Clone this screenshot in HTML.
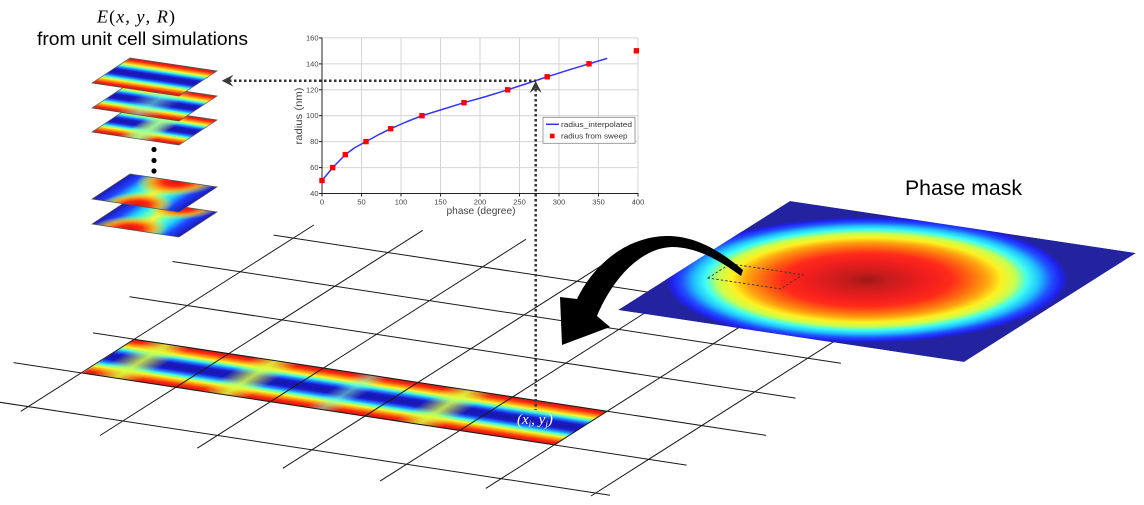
<!DOCTYPE html>
<html><head><meta charset="utf-8"><style>
html,body{margin:0;padding:0;background:#fff;}
svg{display:block;}
</style></head><body>
<svg width="1144" height="505" viewBox="0 0 1144 505" xmlns="http://www.w3.org/2000/svg">
<defs>
  <linearGradient id="sv" x1="0" y1="0" x2="0" y2="1">
    <stop offset="0" stop-color="#c81414"/>
    <stop offset="0.08" stop-color="#ff2a10"/>
    <stop offset="0.16" stop-color="#ffa010"/>
    <stop offset="0.22" stop-color="#f8f830"/>
    <stop offset="0.29" stop-color="#40ffe0"/>
    <stop offset="0.35" stop-color="#2080ff"/>
    <stop offset="0.42" stop-color="#1a1ad0"/>
    <stop offset="0.5" stop-color="#1818a8"/>
    <stop offset="0.58" stop-color="#1a1ad0"/>
    <stop offset="0.65" stop-color="#2080ff"/>
    <stop offset="0.71" stop-color="#40ffe0"/>
    <stop offset="0.78" stop-color="#f8f830"/>
    <stop offset="0.84" stop-color="#ffa010"/>
    <stop offset="0.92" stop-color="#ff2a10"/>
    <stop offset="1" stop-color="#c81414"/>
  </linearGradient>
  <linearGradient id="xu" x1="0" y1="0" x2="1" y2="0">
    <stop offset="0" stop-color="#1a1ab8"/>
    <stop offset="0.14" stop-color="#2040ff"/>
    <stop offset="0.27" stop-color="#20d0ff"/>
    <stop offset="0.38" stop-color="#60ffc0"/>
    <stop offset="0.5" stop-color="#f0f840"/>
    <stop offset="0.62" stop-color="#60ffc0"/>
    <stop offset="0.73" stop-color="#20d0ff"/>
    <stop offset="0.86" stop-color="#2040ff"/>
    <stop offset="1" stop-color="#1a1ab8"/>
  </linearGradient>
  <radialGradient id="rb">
    <stop offset="0" stop-color="#d01010"/>
    <stop offset="0.35" stop-color="#ff2a10"/>
    <stop offset="0.62" stop-color="#ffa010" stop-opacity="0.9"/>
    <stop offset="1" stop-color="#f8f830" stop-opacity="0"/>
  </radialGradient>
  <linearGradient id="pinch" x1="0" y1="0" x2="1" y2="0">
    <stop offset="0" stop-color="#d8ff40" stop-opacity="0"/>
    <stop offset="0.5" stop-color="#d8ff40" stop-opacity="0.85"/>
    <stop offset="1" stop-color="#d8ff40" stop-opacity="0"/>
  </linearGradient>
  <linearGradient id="pinch2" x1="0" y1="0" x2="1" y2="0">
    <stop offset="0" stop-color="#80ffd0" stop-opacity="0"/>
    <stop offset="0.5" stop-color="#80ffd0" stop-opacity="0.55"/>
    <stop offset="1" stop-color="#80ffd0" stop-opacity="0"/>
  </linearGradient>
  <radialGradient id="mg" gradientUnits="userSpaceOnUse" cx="0.47" cy="0.5" r="0.52">
    <stop offset="0" stop-color="#a01818"/>
    <stop offset="0.12" stop-color="#c81c1c"/>
    <stop offset="0.3" stop-color="#f01e1e"/>
    <stop offset="0.42" stop-color="#ff2a1a"/>
    <stop offset="0.52" stop-color="#ff6a10"/>
    <stop offset="0.6" stop-color="#ffa510"/>
    <stop offset="0.67" stop-color="#fff020"/>
    <stop offset="0.74" stop-color="#c8ff50"/>
    <stop offset="0.8" stop-color="#40fff0"/>
    <stop offset="0.86" stop-color="#20c0ff"/>
    <stop offset="0.92" stop-color="#2050ff"/>
    <stop offset="0.97" stop-color="#2020f0"/>
    <stop offset="1" stop-color="#2323a0"/>
  </radialGradient>
  <clipPath id="u"><rect x="0" y="0" width="1" height="1"/></clipPath>
</defs>

<rect width="1144" height="505" fill="#fff"/>

<!-- Top-left title -->
<text x="97" y="22.5" font-family="Liberation Serif, serif" font-size="18" fill="#000" textLength="78" lengthAdjust="spacing"><tspan font-style="italic">E</tspan>(<tspan font-style="italic">x</tspan>, <tspan font-style="italic">y</tspan>, <tspan font-style="italic">R</tspan>)</text>
<text x="37" y="45" font-family="Liberation Sans, sans-serif" font-size="18" fill="#000" textLength="211" lengthAdjust="spacingAndGlyphs">from unit cell simulations</text>

<!-- Unit cell plates (bottom first) -->
<g transform="matrix(87,13,-38,25,130,199)">
  <g clip-path="url(#u)">
    <rect width="1" height="1" fill="url(#xu)"/>
    <ellipse cx="0.42" cy="1" rx="0.4" ry="0.5" fill="url(#rb)"/>
    <ellipse cx="0.62" cy="0" rx="0.36" ry="0.45" fill="url(#rb)"/>
  </g>
  <polygon points="0,0 1,0 1,1 0,1" fill="none" stroke="#555" stroke-width="0.7" vector-effect="non-scaling-stroke"/>
</g>
<g transform="matrix(87,13,-38,25,130,174)">
  <g clip-path="url(#u)">
    <rect width="1" height="1" fill="url(#xu)"/>
    <ellipse cx="0.55" cy="0" rx="0.42" ry="0.55" fill="url(#rb)"/>
    <ellipse cx="0.5" cy="1" rx="0.38" ry="0.5" fill="url(#rb)"/>
  </g>
  <polygon points="0,0 1,0 1,1 0,1" fill="none" stroke="#555" stroke-width="0.7" vector-effect="non-scaling-stroke"/>
</g>
<!-- dots -->
<circle cx="154" cy="149.5" r="2.6" fill="#000"/>
<circle cx="154" cy="160.5" r="2.6" fill="#000"/>
<circle cx="154" cy="171" r="2.6" fill="#000"/>
<g transform="matrix(87,13,-38,25,130,107)">
  <g clip-path="url(#u)">
    <rect width="1" height="1" fill="url(#sv)"/>
    <rect x="0.3" y="0" width="0.4" height="1" fill="url(#pinch)"/>
    <rect x="0.3" y="0" width="0.4" height="1" fill="url(#pinch2)"/>
  </g>
  <polygon points="0,0 1,0 1,1 0,1" fill="none" stroke="#555" stroke-width="0.7" vector-effect="non-scaling-stroke"/>
</g>
<g transform="matrix(87,13,-38,25,130,83)">
  <g clip-path="url(#u)">
    <rect width="1" height="1" fill="url(#sv)"/>
    <rect x="0.25" y="0" width="0.5" height="1" fill="url(#pinch2)"/>
  </g>
  <polygon points="0,0 1,0 1,1 0,1" fill="none" stroke="#555" stroke-width="0.7" vector-effect="non-scaling-stroke"/>
</g>
<g transform="matrix(87,13,-38,25,130,58)">
  <g clip-path="url(#u)">
    <rect width="1" height="1" fill="url(#sv)"/>
  </g>
  <polygon points="0,0 1,0 1,1 0,1" fill="none" stroke="#555" stroke-width="0.7" vector-effect="non-scaling-stroke"/>
</g>

<!-- Strip -->
<g transform="matrix(473,72,-52,34,134.2,339.2)">
  <g clip-path="url(#u)">
    <rect width="1" height="1" fill="url(#sv)"/>
    <rect x="0.02" y="0" width="0.1" height="1" fill="url(#pinch)"/>
    <rect x="0.25" y="0" width="0.1" height="1" fill="url(#pinch)"/>
    <rect x="0.47" y="0" width="0.07" height="1" fill="url(#pinch2)"/>
    <rect x="0.66" y="0" width="0.1" height="1" fill="url(#pinch)"/>
  </g>
</g>

<!-- Grid lines -->
<g stroke="#1a1a1a" stroke-width="1" fill="none">
  <line x1="273.6" y1="235.1" x2="860.8" y2="324.5"/>
  <line x1="172.5" y1="261.5" x2="840.9" y2="363.2"/>
  <line x1="129.5" y1="296.7" x2="795.5" y2="398.1"/>
  <line x1="93.05" y1="332.9" x2="766.1" y2="435.4"/>
  <line x1="13.5" y1="362.6" x2="686.6" y2="465.1"/>
  <line x1="-19.1" y1="399.4" x2="610" y2="495.2"/>
  <line x1="313.9" y1="225" x2="20.8" y2="411.3"/>
  <line x1="422.8" y1="230.3" x2="100" y2="435.5"/>
  <line x1="525.9" y1="239.3" x2="197.3" y2="448.2"/>
  <line x1="614.1" y1="257.7" x2="282.8" y2="468.3"/>
  <line x1="714" y1="269" x2="380.1" y2="481.1"/>
  <line x1="803.3" y1="286.5" x2="485.8" y2="488.4"/>
  <line x1="887.3" y1="307.6" x2="591" y2="496"/>
</g>

<!-- (x_i, y_j) label -->
<text x="517" y="424" font-family="Liberation Serif, serif" font-size="15" fill="#fff" font-style="italic">(x<tspan font-size="9" dy="3">i</tspan><tspan dy="-3">, y</tspan><tspan font-size="9" dy="3">j</tspan><tspan dy="-3">)</tspan></text>

<!-- Phase mask -->
<g transform="matrix(346,52,-172,109,790,201)">
  <g clip-path="url(#u)">
    <rect width="1" height="1" fill="#2323a0"/>
    <circle cx="0.47" cy="0.5" r="0.52" fill="url(#mg)"/>
  </g>
</g>
<polygon points="708,278 730.4,263.8 803,274.7 780.6,288.9" fill="none" stroke="#333" stroke-width="0.9" stroke-dasharray="2.5 2"/>
<text x="905" y="195" font-family="Liberation Sans, sans-serif" font-size="21" fill="#000" textLength="117" lengthAdjust="spacingAndGlyphs">Phase mask</text>

<!-- Curved arrow -->
<path d="M560,297 L577,299 C595,262 630,235 670,236 C700,237 725,255 743,270 L741,276 C722,262 698,247 672,247 C640,248 612,280 597,316 L610,327 L562,345 Z" fill="#000"/>

<!-- Chart -->
<g stroke="#d4d4d4" stroke-width="1">
  <line x1="361.5" y1="37.9" x2="361.5" y2="193.5"/>
  <line x1="401" y1="37.9" x2="401" y2="193.5"/>
  <line x1="440.5" y1="37.9" x2="440.5" y2="193.5"/>
  <line x1="480" y1="37.9" x2="480" y2="193.5"/>
  <line x1="519.5" y1="37.9" x2="519.5" y2="193.5"/>
  <line x1="559" y1="37.9" x2="559" y2="193.5"/>
  <line x1="598.5" y1="37.9" x2="598.5" y2="193.5"/>
  <line x1="638" y1="37.9" x2="638" y2="193.5"/>
  <line x1="322" y1="167.6" x2="638" y2="167.6"/>
  <line x1="322" y1="141.6" x2="638" y2="141.6"/>
  <line x1="322" y1="115.7" x2="638" y2="115.7"/>
  <line x1="322" y1="89.8" x2="638" y2="89.8"/>
  <line x1="322" y1="63.9" x2="638" y2="63.9"/>
  <line x1="322" y1="37.9" x2="638" y2="37.9"/>
</g>
<g stroke="#222" stroke-width="1">
  <line x1="322" y1="37.9" x2="322" y2="194"/>
  <line x1="322" y1="193.5" x2="638.5" y2="193.5"/>
  <line x1="319" y1="193.5" x2="322" y2="193.5"/>
  <line x1="319" y1="167.6" x2="322" y2="167.6"/>
  <line x1="319" y1="141.6" x2="322" y2="141.6"/>
  <line x1="319" y1="115.7" x2="322" y2="115.7"/>
  <line x1="319" y1="89.8" x2="322" y2="89.8"/>
  <line x1="319" y1="63.9" x2="322" y2="63.9"/>
  <line x1="319" y1="37.9" x2="322" y2="37.9"/>
  <line x1="322" y1="193.5" x2="322" y2="196.5"/>
  <line x1="361.5" y1="193.5" x2="361.5" y2="196.5"/>
  <line x1="401" y1="193.5" x2="401" y2="196.5"/>
  <line x1="440.5" y1="193.5" x2="440.5" y2="196.5"/>
  <line x1="480" y1="193.5" x2="480" y2="196.5"/>
  <line x1="519.5" y1="193.5" x2="519.5" y2="196.5"/>
  <line x1="559" y1="193.5" x2="559" y2="196.5"/>
  <line x1="598.5" y1="193.5" x2="598.5" y2="196.5"/>
  <line x1="638" y1="193.5" x2="638" y2="196.5"/>
</g>
<g font-family="Liberation Sans, sans-serif" font-size="7.5" fill="#444" text-anchor="end">
  <text x="318.5" y="196">40</text>
  <text x="318.5" y="170.1">60</text>
  <text x="318.5" y="144.1">80</text>
  <text x="318.5" y="118.2">100</text>
  <text x="318.5" y="92.3">120</text>
  <text x="318.5" y="66.4">140</text>
  <text x="318.5" y="40.4">160</text>
</g>
<g font-family="Liberation Sans, sans-serif" font-size="7.5" fill="#444" text-anchor="middle">
  <text x="322" y="204.5">0</text>
  <text x="361.5" y="204.5">50</text>
  <text x="401" y="204.5">100</text>
  <text x="440.5" y="204.5">150</text>
  <text x="480" y="204.5">200</text>
  <text x="519.5" y="204.5">250</text>
  <text x="559" y="204.5">300</text>
  <text x="598.5" y="204.5">350</text>
  <text x="638" y="204.5">400</text>
</g>
<text x="481" y="214" font-family="Liberation Sans, sans-serif" font-size="10.5" fill="#444" text-anchor="middle" textLength="69" lengthAdjust="spacingAndGlyphs">phase (degree)</text>
<text transform="translate(302,116) rotate(-90)" font-family="Liberation Sans, sans-serif" font-size="10.5" fill="#444" text-anchor="middle" textLength="57" lengthAdjust="spacingAndGlyphs">radius (nm)</text>

<polyline points="322,180.5 332.7,167.6 345.3,154.6 355,147.5 366,141.6 378,135 390.7,128.7 406,122 422,115.7 442,109.5 464,102.7 486,96.5 507.7,89.8 527,83.5 547.2,76.8 568,70.2 589,63.8 607.2,58.4" fill="none" stroke="#3333ff" stroke-width="1.5" stroke-linejoin="round"/>
<g fill="#ff0000">
  <rect x="319.3" y="177.8" width="5.4" height="5.4"/>
  <rect x="330" y="164.9" width="5.4" height="5.4"/>
  <rect x="342.6" y="151.9" width="5.4" height="5.4"/>
  <rect x="363.3" y="138.9" width="5.4" height="5.4"/>
  <rect x="388" y="126" width="5.4" height="5.4"/>
  <rect x="419.3" y="113" width="5.4" height="5.4"/>
  <rect x="461.3" y="100" width="5.4" height="5.4"/>
  <rect x="505" y="87.1" width="5.4" height="5.4"/>
  <rect x="544.5" y="74.1" width="5.4" height="5.4"/>
  <rect x="586.3" y="61.1" width="5.4" height="5.4"/>
  <rect x="633.7" y="48.1" width="5.4" height="5.4"/>
</g>

<!-- Legend -->
<rect x="543" y="117.3" width="92" height="26" fill="#fff" stroke="#888" stroke-width="0.8"/>
<line x1="546" y1="124.3" x2="559" y2="124.3" stroke="#3333ff" stroke-width="1.5"/>
<rect x="550" y="133.7" width="4.6" height="4.6" fill="#ff0000"/>
<g font-family="Liberation Sans, sans-serif" font-size="7.5" fill="#333">
  <text x="561" y="127" textLength="71" lengthAdjust="spacingAndGlyphs">radius_interpolated</text>
  <text x="561" y="138.5" textLength="66.5" lengthAdjust="spacingAndGlyphs">radius from sweep</text>
</g>

<!-- Dotted connectors -->
<g stroke="#333" stroke-width="2.5" stroke-dasharray="2.5 2.5" fill="none">
  <line x1="229" y1="80.7" x2="536" y2="80.7"/>
  <line x1="535.7" y1="89" x2="535.7" y2="410"/>
</g>
<path d="M221.7,80.7 L233.5,74.7 L229,80.7 L233.5,86.7 Z" fill="#3a3a3a"/>
<path d="M535.7,81 L541.8,93 L535.7,88.5 L529.6,93 Z" fill="#3a3a3a"/>
</svg>
</body></html>
